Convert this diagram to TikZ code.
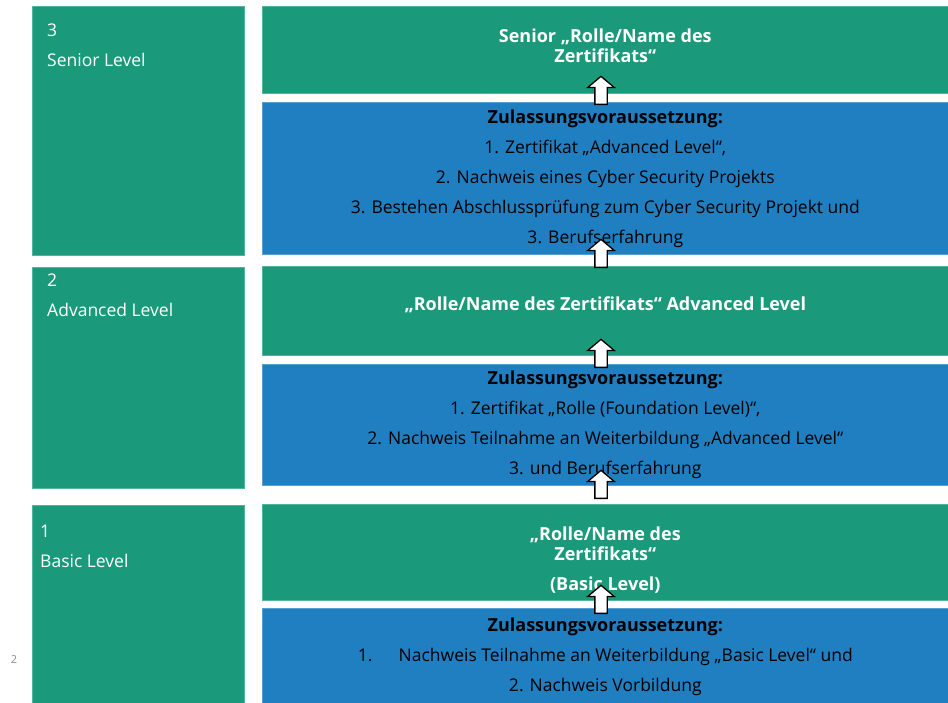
\documentclass[tikz,border=0pt]{standalone}
\usepackage{fontspec}
\setmainfont{Open Sans}
\usetikzlibrary{positioning}
\usetikzlibrary{shapes.arrows}

\definecolor{lvlgreen}{RGB}{26,154,122}
\definecolor{reqblue}{RGB}{31,127,193}
\newcommand{\reqhead}{{\fontsize{18}{30}\selectfont\bfseries Zulassungsvoraussetzung:}}

\begin{document}
\begin{tikzpicture}[x=1pt,y=-1pt,
    box/.style={anchor=north west,inner sep=0pt,align=center,
      draw=#1!75!white,line width=0.6pt,fill=#1},
    certbox/.style={box=lvlgreen,text=white,
      font=\fontsize{18}{20}\selectfont\bfseries},
    reqbox/.style={box=reqblue,text=black,
      font=\fontsize{17.5}{30}\selectfont},
    lvltext/.style={anchor=north west,inner sep=0pt,align=left,text=white,
      font=\fontsize{17.5}{30}\selectfont},
    uparrow/.style={single arrow,draw=black,line width=1.3pt,fill=white,
      rotate=90,anchor=tail,minimum height=28pt,minimum width=25pt,
      inner xsep=0pt,inner ysep=5.5pt,single arrow tip angle=100}]
  \useasboundingbox (0,0) rectangle (948,702);

  \node[box=lvlgreen,minimum width=212pt,minimum height=249pt] (lvl3) at (32,6) {};
  \node[box=lvlgreen,minimum width=212pt,minimum height=221pt] (lvl2) at (32,267) {};
  \node[box=lvlgreen,minimum width=212pt,minimum height=199pt] (lvl1) at (32,505) {};
  \node[lvltext,below right=18pt and 15pt of lvl3.north west] (name3) {3\\Senior Level};
  \node[lvltext,below right=7pt and 15pt of lvl2.north west] (name2) {2\\Advanced Level};
  \node[lvltext,below right=20pt and 8pt of lvl1.north west] (name1) {1\\Basic Level};

  \node[certbox,minimum width=686pt,minimum height=87pt] (cert3) at (262,6)
    {Senior „Rolle/Name des\\Zertifikats“\\[-12pt]};
  \node[reqbox,minimum width=686pt,minimum height=152pt] (req3) at (262,102)
    {\reqhead\\1. Zertifikat „Advanced Level“,\\
     2. Nachweis eines Cyber Security Projekts\\
     3. Bestehen Abschlussprüfung zum Cyber Security Projekt und\\
     3. Berufserfahrung};
  \node[certbox,minimum width=686pt,minimum height=89pt] (cert2) at (262,266)
    {„Rolle/Name des Zertifikats“  Advanced Level\\[-6pt]};
  \node[reqbox,minimum width=686pt,minimum height=121pt] (req2) at (262,364)
    {\reqhead\\1. Zertifikat „Rolle (Foundation Level)“,\\
     2. Nachweis Teilnahme an Weiterbildung  „Advanced Level“\\
     3. und Berufserfahrung};
  \node[certbox,minimum width=686pt,minimum height=96pt] (cert1) at (262,504)
    {\mbox{}\\[9pt]„Rolle/Name des\\Zertifikats“\\[10pt](Basic Level)};
  \node[reqbox,minimum width=686pt,minimum height=96pt] (req1) at (262,608)
    {\reqhead\\
     1.\hspace{1.5em}Nachweis Teilnahme an Weiterbildung  „Basic Level“ und\\
     2. Nachweis Vorbildung};

  \foreach \y [count=\i] in {105,268,368,499,614}
    \node[uparrow] (up\i) at (601,\y) {};

  \node[text=black!45,font=\fontsize{11}{12}\selectfont] (page) at (14,660) {2};
\end{tikzpicture}
\end{document}
